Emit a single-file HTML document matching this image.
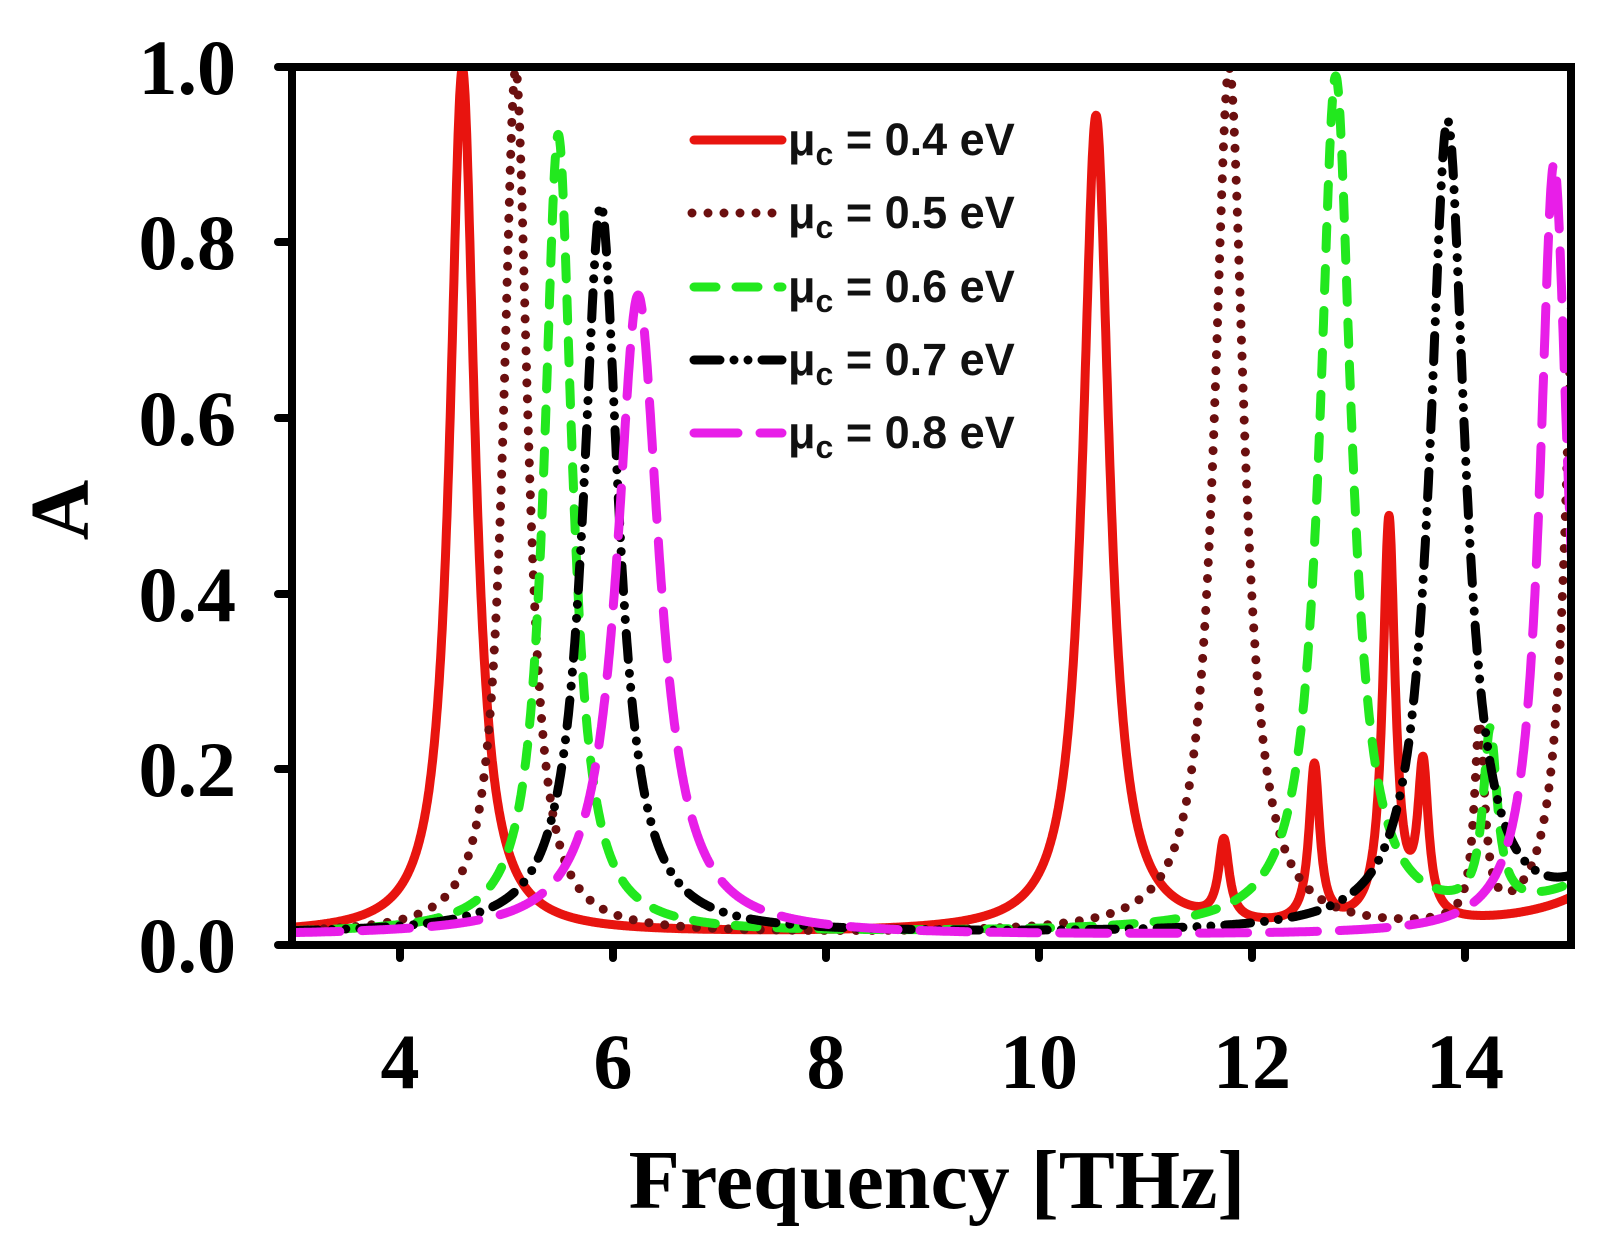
<!DOCTYPE html>
<html><head><meta charset="utf-8"><style>
html,body{margin:0;padding:0;background:#fff;}
svg{display:block;}
</style></head><body>
<svg id="s" width="1624" height="1244" viewBox="0 0 1624 1244" xmlns="http://www.w3.org/2000/svg">
<defs><clipPath id="c"><rect x="292" y="60" width="1280" height="886"/></clipPath></defs>
<rect width="1624" height="1244" fill="#fff"/>
<g id="curves" clip-path="url(#c)"></g>
<g stroke="#000" stroke-width="8" fill="none" stroke-linecap="round">
<rect x="292" y="67" width="1279" height="878" />
<line x1="278" y1="67" x2="292" y2="67"/><line x1="278" y1="242" x2="292" y2="242"/><line x1="278" y1="418" x2="292" y2="418"/><line x1="278" y1="594" x2="292" y2="594"/><line x1="278" y1="769" x2="292" y2="769"/><line x1="278" y1="945" x2="292" y2="945"/>
<line x1="400" y1="945" x2="400" y2="958"/><line x1="613" y1="945" x2="613" y2="958"/><line x1="826" y1="945" x2="826" y2="958"/><line x1="1039" y1="945" x2="1039" y2="958"/><line x1="1252" y1="945" x2="1252" y2="958"/><line x1="1465" y1="945" x2="1465" y2="958"/>
</g>
<g font-family="Liberation Serif, serif" font-weight="bold" font-size="78" fill="#000">
<g text-anchor="end">
<text x="236" y="94">1.0</text><text x="236" y="269">0.8</text><text x="236" y="445">0.6</text><text x="236" y="621">0.4</text><text x="236" y="796">0.2</text><text x="236" y="972">0.0</text>
</g>
<g text-anchor="middle">
<text x="400" y="1088">4</text><text x="613" y="1088">6</text><text x="826" y="1088">8</text><text x="1039" y="1088">10</text><text x="1252" y="1088">12</text><text x="1465" y="1088">14</text>
<text x="937" y="1208" font-size="84">Frequency [THz]</text>
<text transform="translate(88,510) rotate(-90)" font-size="84">A</text>
</g>
</g>
<g stroke-width="9" fill="none">
<line x1="694" y1="140" x2="782" y2="140" stroke="#e8140f" stroke-linecap="round"/>
<line x1="692" y1="213" x2="782" y2="213" stroke="#6b0f0f" stroke-linecap="round" stroke-dasharray="0 16"/>
<line x1="694" y1="287" x2="782" y2="287" stroke="#22e81e" stroke-linecap="round" stroke-dasharray="22 20"/>
<line x1="694" y1="360" x2="782" y2="360" stroke="#000" stroke-linecap="round" stroke-dasharray="26 14 0 14 0 14"/>
<line x1="694" y1="433" x2="782" y2="433" stroke="#e81ee8" stroke-linecap="round" stroke-dasharray="44 22"/>
</g>
<g font-family="Liberation Sans, sans-serif" font-weight="bold" font-size="45" fill="#111">
<text x="788" y="155">μ<tspan font-size="32" dy="10">c</tspan><tspan dy="-10"> = 0.4 eV</tspan></text>
<text x="788" y="228">μ<tspan font-size="32" dy="10">c</tspan><tspan dy="-10"> = 0.5 eV</tspan></text>
<text x="788" y="302">μ<tspan font-size="32" dy="10">c</tspan><tspan dy="-10"> = 0.6 eV</tspan></text>
<text x="788" y="375">μ<tspan font-size="32" dy="10">c</tspan><tspan dy="-10"> = 0.7 eV</tspan></text>
<text x="788" y="448">μ<tspan font-size="32" dy="10">c</tspan><tspan dy="-10"> = 0.8 eV</tspan></text>
</g>
</svg>
<script>
(function(){
var X=function(f){return 292+(f-3)*106.5;}, Y=function(a){return 945-a*878;};
var S=[
 {c:"#e8140f",d:"",b:0.012,p:[[4.6,0.985,0.14],[10.55,0.93,0.15],[11.75,0.09,0.06],[12.6,0.18,0.06],[13.3,0.46,0.07],[13.62,0.17,0.06],[16,0.15,0.6]]},
 {c:"#6b0f0f",d:"0 16",b:0.012,p:[[5.1,0.985,0.14],[11.8,0.985,0.17],[14.15,0.22,0.06],[15.08,0.9,0.13]]},
 {c:"#22e81e",d:"22 20",b:0.012,p:[[5.5,0.91,0.16],[12.8,0.97,0.18],[14.25,0.2,0.08],[16,0.15,0.7]]},
 {c:"#000",d:"26 14 0 14 0 14",b:0.012,p:[[5.9,0.83,0.2],[13.85,0.92,0.2],[15.5,0.08,0.5]]},
 {c:"#e81ee8",d:"48 22",b:0.01,p:[[6.25,0.73,0.24],[14.85,0.88,0.16]]}
];
var g=document.getElementById("curves"),ns="http://www.w3.org/2000/svg";
S.forEach(function(s){
 var d="";
 for(var f=3.0;f<=15.2;f+=0.005){
  var a=s.b;
  s.p.forEach(function(p){var dx=f-p[0];a+=p[1]*p[2]*p[2]/(dx*dx+p[2]*p[2]);});
  if(a>1)a=1;
  d+=(d?"L":"M")+X(f).toFixed(1)+" "+Y(a).toFixed(1);
 }
 var e=document.createElementNS(ns,"path");
 e.setAttribute("d",d);e.setAttribute("fill","none");e.setAttribute("stroke",s.c);
 e.setAttribute("stroke-width","9");e.setAttribute("stroke-linecap","round");e.setAttribute("stroke-linejoin","round");
 if(s.d)e.setAttribute("stroke-dasharray",s.d);
 g.appendChild(e);
});
})();
</script>
</body></html>
